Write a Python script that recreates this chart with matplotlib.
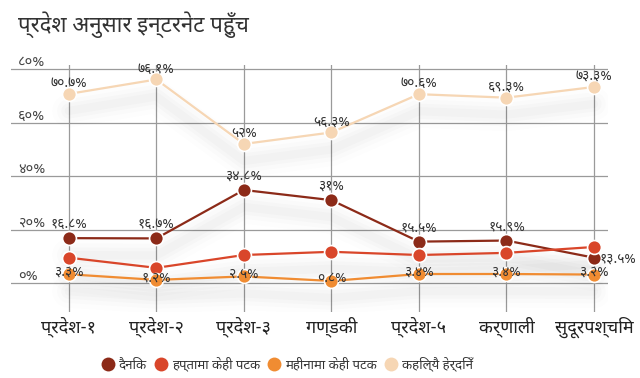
import matplotlib
matplotlib.use("Agg")
import matplotlib.pyplot as plt
import matplotlib.transforms as mtransforms
from matplotlib.lines import Line2D

plt.rcParams["font.family"] = ["Noto Sans Devanagari", "Mukta", "FreeSans", "DejaVu Sans"]

title = "प्रदेश अनुसार इन्टरनेट पहुँच"
categories = ["प्रदेश-१", "प्रदेश-२", "प्रदेश-३", "गण्डकी", "प्रदेश-५", "कर्णाली", "सुदूरपश्चिम"]
series_names = ["दैनिक", "हप्तामा केही पटक", "महीनामा केही पटक", "कहिल्यै हेर्दिनँ"]

daily = [16.8, 16.7, 34.8, 31.0, 15.5, 15.9, 9.5]
weekly = [9.5, 5.7, 10.5, 11.7, 10.5, 11.3, 13.5]
monthly = [3.3, 1.2, 2.5, 0.8, 3.4, 3.4, 3.2]
never = [70.7, 76.1, 52.0, 56.3, 70.6, 69.3, 73.3]

# labels printed on the chart (None = no label)
daily_labels = [16.8, 16.7, 34.8, 31, 15.5, 15.9, None]
weekly_labels = [None, None, None, None, None, None, 13.5]
monthly_labels = [3.3, 1.2, 2.5, 0.8, 3.4, 3.4, 3.2]
never_labels = [70.7, 76.1, 52, 56.3, 70.6, 69.3, 73.3]

y_ticks = [0, 20, 40, 60, 80]

colors = ["#8c2a18", "#d9462a", "#f08c32", "#f6d6b4"]

DEV = str.maketrans("0123456789", "०१२३४५६७८९")


def dev(v):
    s = ("%g" % v).translate(DEV)
    return s + "%"


fig = plt.figure(figsize=(6.4, 3.78), dpi=100)
ax = fig.add_axes([0.0172, 0.1746, 0.9328, 0.6534])
x = list(range(len(categories)))

ax.set_xlim(-0.66, 6.16)
ax.set_ylim(-10.8, 81.5)
for s in ax.spines.values():
    s.set_visible(False)
ax.set_xticks([])
ax.set_yticks([])

# grid
ytrans = mtransforms.blended_transform_factory(ax.transAxes, ax.transData)
for yv in y_ticks:
    ax.axhline(yv, color="#9a9a9a", lw=0.9, zorder=1)
    ax.text(0.012, yv + 1.0, dev(yv), transform=ytrans,
            ha="left", va="baseline", fontsize=10.5, color="#444444")
for xv in x:
    ax.axvline(xv, color="#9a9a9a", lw=0.9, zorder=1)

# soft shadow under the lines
tr = mtransforms.offset_copy(ax.transData, fig=fig, x=0, y=-17, units="dots")
for vals in [never, daily, weekly, monthly]:
    for w, a in [(24, 0.008), (17, 0.011), (11, 0.014), (6, 0.016)]:
        ax.plot(x, vals, color="#000000", lw=w, alpha=a, solid_capstyle="round",
                solid_joinstyle="round", transform=tr, zorder=2)

data = [daily, weekly, monthly, never]
for vals, c in zip(data, colors):
    ax.plot(x, vals, color=c, lw=1.6, marker="o", ms=10, mfc=c, mec="white", mew=1.2, zorder=4)

# value labels
for vals, labs, dy in [(daily, daily_labels, 7.5), (monthly, monthly_labels, -1), (never, never_labels, 5)]:
    for xi, v, lab in zip(x, vals, labs):
        if lab is None:
            continue
        ax.annotate(dev(lab), (xi, v), xytext=(0, dy), textcoords="offset points",
                    ha="center", va="baseline", fontsize=10, color="#333333", zorder=6)
for xi, v, lab in zip(x, daily, weekly_labels):
    if lab is None:
        continue
    ax.annotate(dev(lab), (xi, v), xytext=(4, -3.5), textcoords="offset points",
                ha="left", va="baseline", fontsize=10, color="#333333", zorder=6)

# category labels
for xi, cat in zip(x, categories):
    fig.text(ax.transData.transform((xi, 0))[0] / fig.bbox.width, 1 - 327 / 378, cat,
             ha="center", va="center", fontsize=13, color="#222222")

fig.text(18 / 640, 1 - 25 / 378, title, ha="left", va="center", fontsize=16, color="#333333")

handles = [Line2D([], [], ls="none", marker="o", ms=10, mfc=c, mec="none") for c in colors]
fig.legend(handles, series_names, loc="center", bbox_to_anchor=(287 / 640, 1 - 364 / 378),
           ncol=4, frameon=False, fontsize=9.5, handletextpad=0.3, columnspacing=0.6,
           handlelength=1.0, labelcolor="#333333")

fig.savefig("out.png", dpi=100)
